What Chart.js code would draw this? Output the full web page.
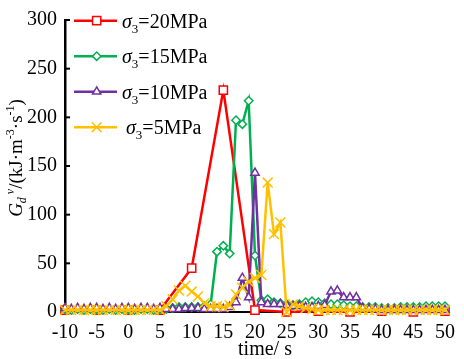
<!DOCTYPE html>
<html><head><meta charset="utf-8">
<script src="https://cdn.jsdelivr.net/npm/chart.js@4"></script>
<style>html,body{margin:0;padding:0;background:#fff}</style>
</head><body>
<canvas id="c" width="464" height="359" style="display:block;width:464px;height:359px"></canvas>
<script>
// ---- data ----
const timesRed = [-10,-5,0,5,10,15,20,25,30,35,40,45,50];
const timesFine = [-10,-9,-8,-7,-6,-5,-4,-3,-2,-1,0,1,2,3,4,5,6,7,8,9,10,11,12,13,14,15,16,17,18,19,20,21,22,23,24,25,26,27,28,29,30,31,32,33,34,35,36,37,38,39,40,41,42,43,44,45,46,47,48,49,50];
const red20 = [2,2,2,2,45,228,2,0,1,0,1,0,1];
const green15 = [3,2,3,2,3,3,2,3,2,3,3,2,3,3,2,3,3,4,5,5,5,5,6,8,62,68,60,197,193,217,58,12,13,10,9,8,7,8,10,11,10,9,8,8,7,6,6,5,5,5,4,4,4,5,5,5,5,6,6,6,6];
const purple10 = [4,3,4,3,4,4,3,4,3,4,4,3,4,4,3,4,3,3,3,4,4,4,3,3,3,3,5,10,35,15,143,10,8,8,8,7,6,6,5,5,6,7,21,22,15,15,15,4,3,3,2,2,2,2,2,2,2,2,2,2,2];
const yellow5 = [2,2,2,2,2,2,2,2,2,2,2,2,2,2,2,2,6,13,22,27,21,16,9,6,6,5,7,18,25,31,35,38,133,80,92,0,8,6,4,3,2,2,2,2,2,2,2,2,2,2,2,2,2,2,2,2,2,2,2,2,2];
const xTicks = [-10,-5,0,5,10,15,20,25,30,35,40,45,50];
const yTicks = [0,50,100,150,200,250,300];
const seriesLabels = ['=20MPa','=15MPa','=10MPa','=5MPa'];
const seriesColors = ['#FF0000','#00B050','#7030A0','#FFC000'];
const seriesStyles = ['rect','rectRot','triangle','crossRot'];
const seriesRadius = [5.8,4.2,4.8,7];

const FONT = '"Liberation Serif","Times New Roman",serif';
function pts(xs, ys){ return xs.map((x,i)=>({x:x,y:ys[i]})); }
const seriesData = [pts(timesRed,red20), pts(timesFine,green15), pts(timesFine,purple10), pts(timesFine,yellow5)];

function drawMarker(ctx, style, r, x, y, color){
  ctx.save();
  ctx.strokeStyle = color; ctx.fillStyle = '#fff'; ctx.lineWidth = 1.5;
  ctx.beginPath();
  if (style==='rect'){ const s=Math.SQRT1_2*r; ctx.rect(x-s,y-s,2*s,2*s); ctx.fill(); ctx.stroke(); }
  else if (style==='rectRot'){ ctx.moveTo(x-r,y); ctx.lineTo(x,y-r); ctx.lineTo(x+r,y); ctx.lineTo(x,y+r); ctx.closePath(); ctx.fill(); ctx.stroke(); }
  else if (style==='triangle'){ for(let k=0;k<3;k++){const a=k*2*Math.PI/3; const px=x+Math.sin(a)*r, py=y-Math.cos(a)*r; k?ctx.lineTo(px,py):ctx.moveTo(px,py);} ctx.closePath(); ctx.fill(); ctx.stroke(); }
  else { const o=Math.SQRT1_2*r; ctx.moveTo(x-o,y-o); ctx.lineTo(x+o,y+o); ctx.moveTo(x+o,y-o); ctx.lineTo(x-o,y+o); ctx.stroke(); }
  ctx.restore();
}
function richWidth(ctx, segs){
  let w=0; segs.forEach(s=>{ctx.font=(s.it?'italic ':'')+s.size+'px '+FONT; w+=ctx.measureText(s.t).width;}); return w;
}
function drawRich(ctx, segs, x, base){
  segs.forEach(s=>{ctx.font=(s.it?'italic ':'')+s.size+'px '+FONT; ctx.fillText(s.t, x, base+(s.dy||0)); x+=ctx.measureText(s.t).width;});
}

const decor = {
  id:'decor',
  beforeDatasetsDraw(chart){
    const ctx=chart.ctx, a=chart.chartArea, xs=chart.scales.x, ys=chart.scales.y;
    ctx.save(); ctx.strokeStyle='#000'; ctx.lineWidth=2;
    yTicks.forEach(v=>{const py=ys.getPixelForValue(v); ctx.beginPath(); ctx.moveTo(a.left,py); ctx.lineTo(a.left+5,py); ctx.stroke();});
    xTicks.forEach(v=>{const px=xs.getPixelForValue(v); ctx.beginPath(); ctx.moveTo(px,a.bottom); ctx.lineTo(px,a.bottom-5); ctx.stroke();});
    ctx.restore();
  },
  afterDraw(chart){
    const ctx=chart.ctx;
    ctx.save();
    ctx.fillStyle='#000'; ctx.textBaseline='alphabetic'; ctx.textAlign='left';
    // legend
    for(let i=0;i<4;i++){
      const cy = 20.7 + i*35.5;
      ctx.strokeStyle=seriesColors[i]; ctx.lineWidth=2.5;
      ctx.beginPath(); ctx.moveTo(74,cy); ctx.lineTo(117,cy); ctx.stroke();
      drawMarker(ctx, seriesStyles[i], seriesRadius[i], 96.7, cy, seriesColors[i]);
      ctx.fillStyle='#000';
      drawRich(ctx,[{t:'σ',it:true,size:20},{t:'3',size:13,dy:5},{t:seriesLabels[i],size:20}], i===3?126:122, cy+7);
    }
    // y title
    const ysegs=[{t:'G',it:true,size:19},{t:'d',it:true,size:12,dy:4},{t:' v',it:true,size:12,dy:-8},{t:'/(kJ·m',size:19},{t:'-3',size:12,dy:-8},{t:'·s',size:19},{t:'-1',size:12,dy:-8},{t:')',size:19}];
    ctx.save(); ctx.translate(22,158); ctx.rotate(-Math.PI/2);
    const w=richWidth(ctx,ysegs); drawRich(ctx,ysegs,-w/2,0); ctx.restore();
    // x title
    ctx.font='20px '+FONT; ctx.textAlign='center'; ctx.fillText('time/ s',265,355);
    ctx.restore();
  }
};

const datasets = seriesData.map((d,i)=>({
  data:d, borderColor:seriesColors[i], borderWidth:2.5, backgroundColor:'#fff',
  pointStyle:seriesStyles[i], pointRadius:seriesRadius[i], pointBorderColor:seriesColors[i],
  pointBackgroundColor:'#fff', pointBorderWidth:1.5, tension:0, clip:false, order:4-i
}));
const tickFont = {family:FONT, size:20};
new Chart(document.getElementById('c'), {
  type:'line',
  data:{datasets:datasets},
  options:{
    responsive:false, animation:false, devicePixelRatio:1,
    layout:{padding:{top:8,right:12,left:0,bottom:0}},
    plugins:{legend:{display:false}, tooltip:{enabled:false}},
    scales:{
      x:{type:'linear',min:-10,max:50,
        afterBuildTicks:s=>{s.ticks=xTicks.map(v=>({value:v}));},
        ticks:{font:tickFont,color:'#000',padding:9,maxRotation:0,autoSkip:false},
        grid:{display:false,drawTicks:false}, border:{color:'#000',width:2},
        afterFit:s=>{s.height=47;}},
      y:{type:'linear',min:0,max:300,
        afterBuildTicks:s=>{s.ticks=yTicks.map(v=>({value:v}));},
        ticks:{font:tickFont,color:'#000',padding:8},
        grid:{display:false,drawTicks:false}, border:{color:'#000',width:2.5},
        afterFit:s=>{s.width=65;}}
    }
  },
  plugins:[decor]
});
</script>
</body></html>
